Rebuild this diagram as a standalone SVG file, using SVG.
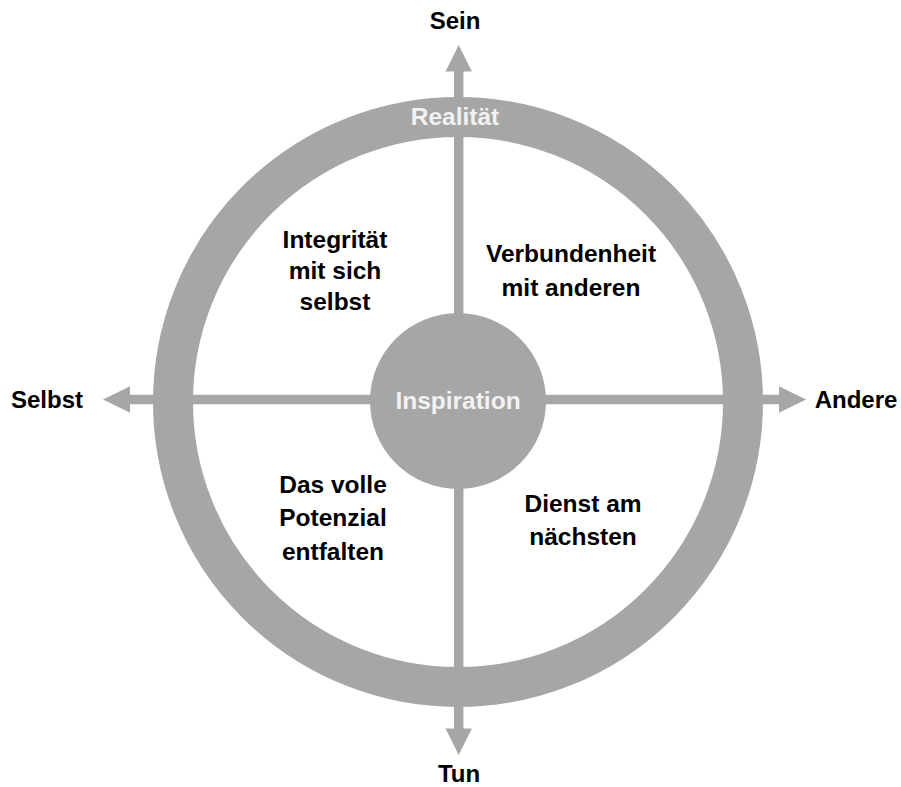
<svg xmlns="http://www.w3.org/2000/svg" width="901" height="787" viewBox="0 0 901 787">
<defs>
<style>
.g{fill:#a6a6a6}
.axis{stroke:#a6a6a6;stroke-width:9.5;fill:none}
.lbl{font-family:"Liberation Sans",Arial,sans-serif;font-weight:bold;font-size:24px;fill:#000;text-anchor:middle}
.q{font-family:"Liberation Sans",Arial,sans-serif;font-weight:bold;font-size:24.5px;fill:#000;text-anchor:middle}
.w{font-family:"Liberation Sans",Arial,sans-serif;font-weight:bold;font-size:24.5px;fill:#f2f2f2;text-anchor:middle}
</style>
</defs>
<rect width="901" height="787" fill="#fff"/>
<g id="connectors">
<line class="axis" x1="458.7" y1="70" x2="458.7" y2="729"/>
<line class="axis" x1="129" y1="399.5" x2="780" y2="399.5"/>
<polygon class="g" points="458.7,45 445.5,71.5 471.9,71.5"/>
<polygon class="g" points="458.7,755 445.5,728.5 471.9,728.5"/>
<polygon class="g" points="103,399.5 130,386.2 130,412.8"/>
<polygon class="g" points="806,399.5 779,386.2 779,412.8"/>
</g>
<g id="ring">
<circle cx="458" cy="402" r="285" fill="none" stroke="#a6a6a6" stroke-width="40"/>
<text class="w" x="455" y="125">Realität</text>
</g>
<g id="inspiration">
<circle class="g" cx="458" cy="401" r="88"/>
<text class="w" x="458" y="409">Inspiration</text>
</g>
<g id="sein"><text class="lbl" x="455" y="29">Sein</text></g>
<g id="tun"><text class="lbl" x="459" y="782">Tun</text></g>
<g id="selbst"><text class="lbl" x="47" y="408">Selbst</text></g>
<g id="andere"><text class="lbl" x="856" y="408">Andere</text></g>
<g id="q1">
<text class="q" x="335" y="248">Integrität</text>
<text class="q" x="335" y="279">mit sich</text>
<text class="q" x="335" y="310">selbst</text>
</g>
<g id="q2">
<text class="q" x="571" y="262">Verbundenheit</text>
<text class="q" x="571" y="296">mit anderen</text>
</g>
<g id="q3">
<text class="q" x="333" y="493">Das volle</text>
<text class="q" x="333" y="526">Potenzial</text>
<text class="q" x="333" y="560">entfalten</text>
</g>
<g id="q4">
<text class="q" x="583" y="512">Dienst am</text>
<text class="q" x="583" y="545">nächsten</text>
</g>
</svg>
